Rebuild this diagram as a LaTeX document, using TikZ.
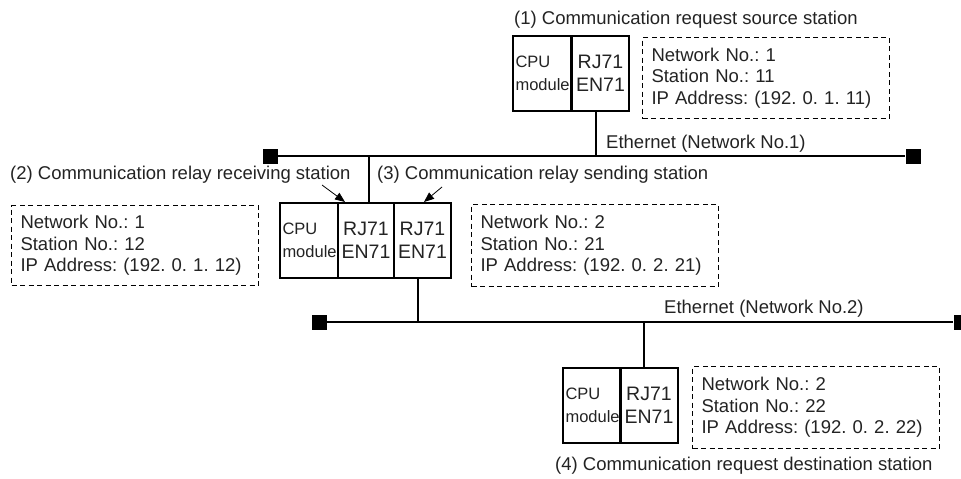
\documentclass[tikz,border=0pt]{standalone}
\usepackage{fontspec}
\setmainfont{Liberation Sans}
\usetikzlibrary{arrows.meta}
\definecolor{txt}{RGB}{35,35,35}
\frenchspacing
\begin{document}
\begin{tikzpicture}[x=1pt,y=-1pt,
  every node/.style={text=txt},
  mainfont/.style={font=\fontsize{18.5}{21.5}\selectfont\frenchspacing},
  smallfont/.style={font=\fontsize{16.5}{23}\selectfont},
  lbl/.style={mainfont, anchor=west, inner sep=0pt},
  cpubox/.style={draw=black, line width=2pt, minimum height=75pt, inner xsep=2.5pt, inner ysep=0pt, text width=53pt, align=left, smallfont, anchor=north west},
  rjbox/.style={draw=black, line width=2pt, minimum height=75pt, minimum width=#1, inner sep=0pt, align=center, font=\fontsize{19.5}{23}\selectfont, anchor=north west},
  infobox/.style={draw=black, dash pattern=on 5pt off 3.5pt, line width=1pt, minimum width=247pt, minimum height=#1, inner xsep=9pt, inner ysep=0pt, text width=229pt, align=left, mainfont, anchor=north west},
  sq/.style={fill=black, minimum size=15pt, inner sep=0pt},
  net/.style={draw=black, line width=2pt},
  ptr/.style={draw=black, line width=0.8pt, -{Triangle[length=10pt,width=8pt]}}
]
\useasboundingbox (0,0) rectangle (961,479);
\clip (0,0) rectangle (961,479);

% station 1
\node[lbl] (t1) at (514,20) {(1) Communication request source station};
\node[cpubox] (cpu1) at (512,35) {CPU\\module};
\node[rjbox=57pt] (rj1) at (571,35) {RJ71\\EN71};
\node[infobox=81pt] (d1) at (642,37) {Network No.: 1\\Station No.: 11\\IP Address: (192. 0. 1. 11)};

% network 1
\node[sq] (s1l) at (270,156) {};
\node[sq] (s1r) at (913,156) {};
\draw[net] (s1l) -- (s1r);
\node[lbl] (eth1) at (606,144) {Ethernet (Network No.1)};
\coordinate (j1) at (596,156);
\draw[net] (j1 |- rj1.south) -- (j1);

% relay station
\node[lbl] (t2) at (10,175) {(2) Communication relay receiving station};
\node[lbl] (t3) at (377,175) {(3) Communication relay sending station};
\node[cpubox] (cpu2) at (279,202) {CPU\\module};
\node[rjbox=56pt] (rja) at (337,202) {RJ71\\EN71};
\node[rjbox=57pt] (rjb) at (393,202) {RJ71\\EN71};
\coordinate (j2) at (369,156);
\draw[net] (j2) -- (j2 |- rja.north);
\coordinate (a2s) at (322,185);
\coordinate (a2e) at (345,202);
\draw[ptr] (a2s) -- (a2e);
\coordinate (a3s) at (442,187);
\coordinate (a3e) at (424,202);
\draw[ptr] (a3s) -- (a3e);
\node[infobox=80pt] (d2) at (11,205) {Network No.: 1\\Station No.: 12\\IP Address: (192. 0. 1. 12)};
\node[infobox=82pt] (d3) at (471,204) {Network No.: 2\\Station No.: 21\\IP Address: (192. 0. 2. 21)};

% network 2
\node[sq] (s2l) at (319,322) {};
\node[sq] (s2r) at (961,322) {};
\draw[net] (s2l) -- (s2r);
\node[lbl] (eth2) at (664,309) {Ethernet (Network No.2)};
\coordinate (j3) at (418,322);
\draw[net] (j3 |- rjb.south) -- (j3);

% station 4
\coordinate (j4) at (644,322);
\node[cpubox] (cpu4) at (562,367) {CPU\\module};
\node[rjbox=58pt] (rj4) at (619,367) {RJ71\\EN71};
\draw[net] (j4) -- (j4 |- rj4.north);
\node[infobox=82pt] (d4) at (692,366) {Network No.: 2\\Station No.: 22\\IP Address: (192. 0. 2. 22)};
\node[lbl] (t4) at (555,466) {(4) Communication request destination station};
\end{tikzpicture}
\end{document}
